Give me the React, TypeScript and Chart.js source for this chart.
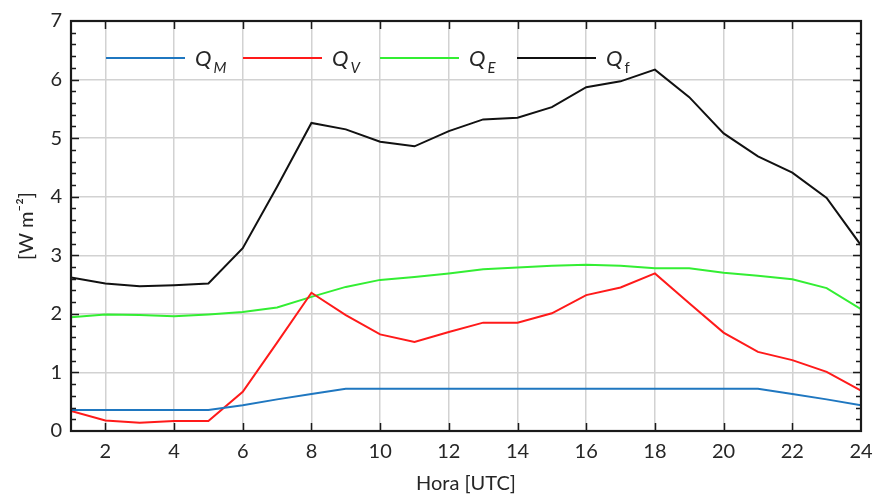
import React, { useEffect, useRef } from "react";
import { Chart, registerables } from "chart.js";

Chart.register(...registerables);

const hours = [1, 2, 3, 4, 5, 6, 7, 8, 9, 10, 11, 12, 13, 14, 15, 16, 17, 18, 19, 20, 21, 22, 23, 24];

const qM = [0.36, 0.36, 0.36, 0.36, 0.36, 0.44, 0.54, 0.63, 0.72, 0.72, 0.72, 0.72, 0.72, 0.72, 0.72, 0.72, 0.72, 0.72, 0.72, 0.72, 0.72, 0.63, 0.54, 0.44];
const qV = [0.34, 0.18, 0.14, 0.17, 0.17, 0.67, 1.51, 2.36, 1.98, 1.65, 1.52, 1.69, 1.85, 1.85, 2.01, 2.32, 2.45, 2.69, 2.18, 1.68, 1.35, 1.21, 1.01, 0.69];
const qE = [1.94, 1.99, 1.98, 1.96, 1.99, 2.03, 2.11, 2.29, 2.46, 2.58, 2.63, 2.69, 2.76, 2.79, 2.82, 2.84, 2.82, 2.78, 2.78, 2.70, 2.65, 2.59, 2.44, 2.08];
const qF = [2.62, 2.52, 2.47, 2.49, 2.52, 3.12, 4.17, 5.26, 5.15, 4.94, 4.86, 5.12, 5.32, 5.35, 5.53, 5.87, 5.97, 6.17, 5.70, 5.08, 4.69, 4.41, 3.98, 3.17];

const seriesMain = ["Q", "Q", "Q", "Q"];
const seriesSub = ["M", "V", "E", "f"];
const subItalic = [true, true, true, false];
const colors = ["#1f77c0", "#ff1a1a", "#33ee33", "#111111"];

const xTitle = "Hora [UTC]";
const yTitle = "[W m⁻²]";

const FONT = "Lato, 'Open Sans', sans-serif";
const TEXT = "#262626";

const framePlugin = {
  id: "frame",
  afterDraw(chart: any) {
    const { ctx, chartArea } = chart;
    const { left, right, top, bottom } = chartArea;
    const xs = chart.scales.x;
    const ys = chart.scales.y;
    ctx.save();
    ctx.strokeStyle = "#1a1a1a";
    ctx.lineWidth = 1.5;
    ctx.beginPath();
    for (let v = 2; v <= 22; v += 2) {
      const px = Math.round(xs.getPixelForValue(v)) + 0.5;
      ctx.moveTo(px, bottom);
      ctx.lineTo(px, bottom - 8);
      ctx.moveTo(px, top);
      ctx.lineTo(px, top + 8);
    }
    for (let i = 1; i < 35; i++) {
      const v = i * 0.2;
      const py = Math.round(ys.getPixelForValue(v)) + 0.5;
      const len = i % 5 === 0 ? 8 : 5;
      ctx.moveTo(left, py);
      ctx.lineTo(left + len, py);
      ctx.moveTo(right, py);
      ctx.lineTo(right - len, py);
    }
    ctx.stroke();
    ctx.lineWidth = 2.2;
    ctx.strokeRect(left, top, right - left, bottom - top);

    const ly = 58;
    const x0 = 106;
    const step = 137;
    for (let i = 0; i < seriesMain.length; i++) {
      const sx = x0 + i * step;
      ctx.strokeStyle = colors[i];
      ctx.lineWidth = 2;
      ctx.beginPath();
      ctx.moveTo(sx, ly);
      ctx.lineTo(sx + 79, ly);
      ctx.stroke();
      ctx.fillStyle = TEXT;
      ctx.textBaseline = "alphabetic";
      ctx.textAlign = "left";
      ctx.font = `italic 22px ${FONT}`;
      const tx = sx + 89;
      ctx.fillText(seriesMain[i], tx, ly + 8);
      const w = ctx.measureText(seriesMain[i]).width;
      ctx.font = `${subItalic[i] ? "italic " : ""}15px ${FONT}`;
      ctx.fillText(seriesSub[i], tx + w + 2, ly + 15);
    }
    ctx.restore();
  },
};

export default function App() {
  const ref = useRef<HTMLCanvasElement | null>(null);

  useEffect(() => {
    if (!ref.current) return;
    const ds = [qM, qV, qE, qF].map((d, i) => ({
      label: seriesMain[i] + seriesSub[i],
      data: hours.map((h, j) => ({ x: h, y: d[j] })),
      borderColor: colors[i],
      backgroundColor: colors[i],
      borderWidth: 2,
      pointRadius: 0,
      tension: 0,
    }));
    const chart = new Chart(ref.current, {
      type: "line",
      data: { datasets: ds },
      plugins: [framePlugin],
      options: {
        animation: false,
        responsive: false,
        layout: { padding: { top: 21, right: 14, left: 0, bottom: 0 } },
        plugins: { legend: { display: false }, tooltip: { enabled: false } },
        scales: {
          x: {
            type: "linear",
            min: 1,
            max: 24,
            afterBuildTicks: (s: any) => {
              s.ticks = s.ticks.filter((t: any) => t.value % 2 === 0);
            },
            afterFit: (s: any) => {
              s.height = 65;
              s.paddingRight = 0;
              s.paddingLeft = 0;
            },
            ticks: { stepSize: 2, color: TEXT, font: { family: FONT, size: 20 }, padding: 9, maxRotation: 0 },
            grid: { color: "#d2d2d2", lineWidth: 1.5, drawTicks: false },
            border: { display: false },
            title: { display: true, text: xTitle, color: TEXT, font: { family: FONT, size: 20 }, padding: { top: 0, bottom: 0 } },
          },
          y: {
            min: 0,
            max: 7,
            afterFit: (s: any) => {
              s.width = 71;
              s.paddingTop = 0;
              s.paddingBottom = 0;
            },
            ticks: { stepSize: 1, color: TEXT, font: { family: FONT, size: 20 }, padding: 9 },
            grid: { color: "#d2d2d2", lineWidth: 1.5, drawTicks: false },
            border: { display: false },
            title: { display: true, text: yTitle, color: TEXT, font: { family: FONT, size: 20 }, padding: { top: 15, bottom: 0 } },
          },
        },
      },
    });
    return () => chart.destroy();
  }, []);

  return (
    <div style={{ position: "fixed", left: 0, top: 0, width: 875, height: 496, background: "#fff" }}>
      <canvas ref={ref} width={875} height={496} />
    </div>
  );
}
